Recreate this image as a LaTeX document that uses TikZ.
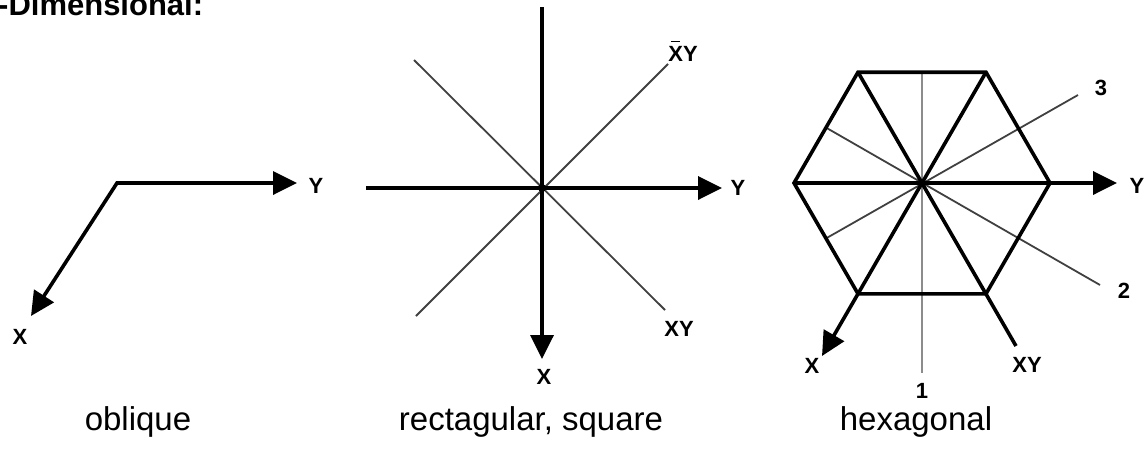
\documentclass[tikz,border=0pt]{standalone}
\usepackage{fontspec}
\setmainfont{Liberation Sans}
\usetikzlibrary{arrows.meta}
\tikzset{
  thick axis/.style={line width=3.6pt, line cap=butt},
  arrowaxis/.style={thick axis, -{Triangle[length=24pt,width=23pt]}},
  bothaxis/.style={thick axis, {Triangle[length=24pt,width=23pt]}-{Triangle[length=24pt,width=23pt]}},
  thinline/.style={line width=1.8pt, draw=black!75},
  grayline/.style={line width=2.6pt, draw=black!45},
  axlabel/.style={font=\bfseries\fontsize{22}{22}\selectfont, inner sep=0pt},
  caption/.style={font=\fontsize{33}{33}\selectfont, inner sep=0pt, anchor=base},
}
\begin{document}
\begin{tikzpicture}[x=1pt,y=-1pt]
\useasboundingbox (0,0) rectangle (1144,450);
% title
\node[font=\bfseries\fontsize{31}{31}\selectfont, inner sep=0pt, anchor=base west] (title) at (-2,15) {-Dimensional:};

% ---------- oblique ----------
\coordinate (oO) at (117,183);
\coordinate (oY) at (297,183);
\coordinate (oX) at (31,316);
\draw[bothaxis, line join=miter] (oY) -- (oO) -- (oX);
\node[axlabel] (oYl) at (316,186) {Y};
\node[axlabel] (oXl) at (20,337) {X};

% ---------- rectangular ----------
\coordinate (rC) at (542,188);
\coordinate (rT) at (542,7);
\coordinate (rB) at (542,359);
\coordinate (rL) at (366,188);
\coordinate (rR) at (722,188);
\coordinate (rUL) at (414,60);
\coordinate (rLR) at (665,310);
\coordinate (rUR) at (668,64);
\coordinate (rLL) at (416,316);
\draw[thinline] (rUL) -- (rLR);
\draw[thinline] (rLL) -- (rUR);
\draw[arrowaxis] (rT) -- (rB);
\draw[arrowaxis] (rL) -- (rR);
\fill (rC) circle (4pt);
\node[axlabel] (rYl) at (738,188) {Y};
\node[axlabel] (rXl) at (544,377) {X};
\node[axlabel] (rXYb) at (683,51) {\makebox[0pt][l]{\hspace{0.12em}\rule[0.85em]{0.42em}{1.5pt}}XY};
\node[axlabel] (rXY) at (679,329) {XY};

% ---------- hexagonal ----------
\coordinate (hC) at (922,183);
\coordinate (h0) at (1050,183);
\coordinate (h1) at (986,72.2);
\coordinate (h2) at (858,72.2);
\coordinate (h3) at (794,183);
\coordinate (h4) at (858,293.8);
\coordinate (h5) at (986,293.8);
\coordinate (hTop) at (922,72.2);
\coordinate (hBot) at (922,373);
\coordinate (hM2) at (826,127.6);
\coordinate (hM4) at (826,238.4);
\coordinate (h3end) at (1078,95);
\coordinate (h2end) at (1100,285);
\coordinate (hXY) at (1016,346);
\coordinate (hX) at (822,356);
\coordinate (hY) at (1117,183);
\draw[grayline] (hTop) -- (hBot);
\draw[thinline] (hM2) -- (h2end);
\draw[thinline] (hM4) -- (h3end);
\draw[thick axis, line join=miter] (h0) -- (h1) -- (h2) -- (h3) -- (h4) -- (h5) -- cycle;
\draw[thick axis] (h3) -- (h0);
\draw[thick axis] (h2) -- (hXY);
\draw[thick axis] (h1) -- (h4);
\draw[arrowaxis] (h4) -- (hX);
\draw[arrowaxis] (h0) -- (hY);
\fill (hC) circle (3.5pt);
\node[axlabel] (hYl) at (1137,186) {Y};
\node[axlabel] (hXl) at (812,366) {X};
\node[axlabel] (hXYl) at (1027,365) {XY};
\node[axlabel] (h1l) at (922,391) {1};
\node[axlabel] (h2l) at (1124,291) {2};
\node[axlabel] (h3l) at (1101,88) {3};

% ---------- captions ----------
\node[caption] (c1) at (138,430) {oblique};
\node[caption] (c2) at (531,430) {rectagular, square};
\node[caption] (c3) at (916,430) {hexagonal};
\end{tikzpicture}
\end{document}
